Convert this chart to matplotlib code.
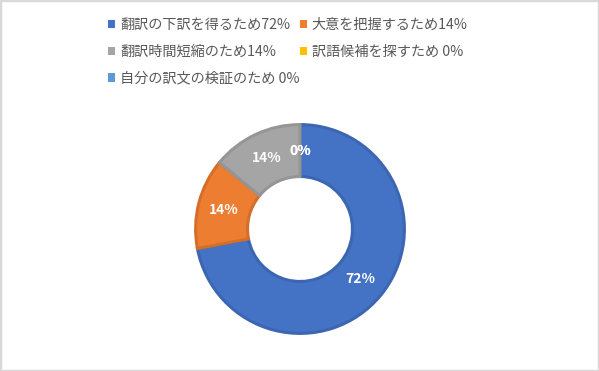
import matplotlib.pyplot as plt
from matplotlib.patches import Patch, Rectangle

plt.rcParams["font.family"] = ["Noto Sans CJK JP", "DejaVu Sans"]

# data
categories = [
    "翻訳の下訳を得るため",
    "大意を把握するため",
    "翻訳時間短縮のため",
    "訳語候補を探すため",
    "自分の訳文の検証のため",
]
values = [72, 14, 14, 0, 0]
legend_labels = [
    "翻訳の下訳を得るため72%",
    "大意を把握するため14%",
    "翻訳時間短縮のため14%",
    "訳語候補を探すため 0%",
    "自分の訳文の検証のため 0%",
]
colors = ["#4472C4", "#ED7D31", "#A5A5A5", "#FFC000", "#5B9BD5"]
edge_colors = ["#3C66B2", "#D46F2A", "#959595", "#E5AC00", "#5189BF"]

W, H = 599, 371
fig = plt.figure(figsize=(W / 100, H / 100), dpi=100)

# donut axes, centre (300, 229) px, outer radius ~106 px
cx, cy, r = 300, 229, 106
ax = fig.add_axes([(cx - r) / W, (H - cy - r) / H, 2 * r / W, 2 * r / H])
wedges, texts, autotexts = ax.pie(
    values,
    colors=colors,
    startangle=90,
    counterclock=False,
    radius=0.985,
    autopct=lambda p: f"{p:.0f}%",
    pctdistance=0.75,
    wedgeprops=dict(width=0.49, linewidth=2.2),
    textprops=dict(color="white", fontsize=10, fontweight="bold"),
)
for w, ec, v in zip(wedges, edge_colors, values):
    w.set_edgecolor(ec)
    if v == 0:
        w.set_linewidth(0)
ax.set_xlim(-1, 1)
ax.set_ylim(-1, 1)

# legend: row-wise order in a 2-column layout
order = [0, 2, 4, 1, 3]
handles = [Patch(facecolor=colors[i], edgecolor="none") for i in order]
labels = [legend_labels[i] for i in order]
fig.legend(
    handles,
    labels,
    ncol=2,
    loc="upper left",
    bbox_to_anchor=(108 / W, 1 - 18 / H),
    frameon=False,
    fontsize=10.2,
    labelcolor="#595959",
    handlelength=0.5,
    handleheight=0.5,
    handletextpad=0.35,
    columnspacing=0.0,
    labelspacing=0.9,
    borderpad=0,
    borderaxespad=0,
)

# light gray outer frame
fig.add_artist(
    Rectangle((0, 0), 1, 1, transform=fig.transFigure, fill=False,
              edgecolor="#D9D9D9", linewidth=2.5)
)

fig.savefig("out.png", dpi=100)
